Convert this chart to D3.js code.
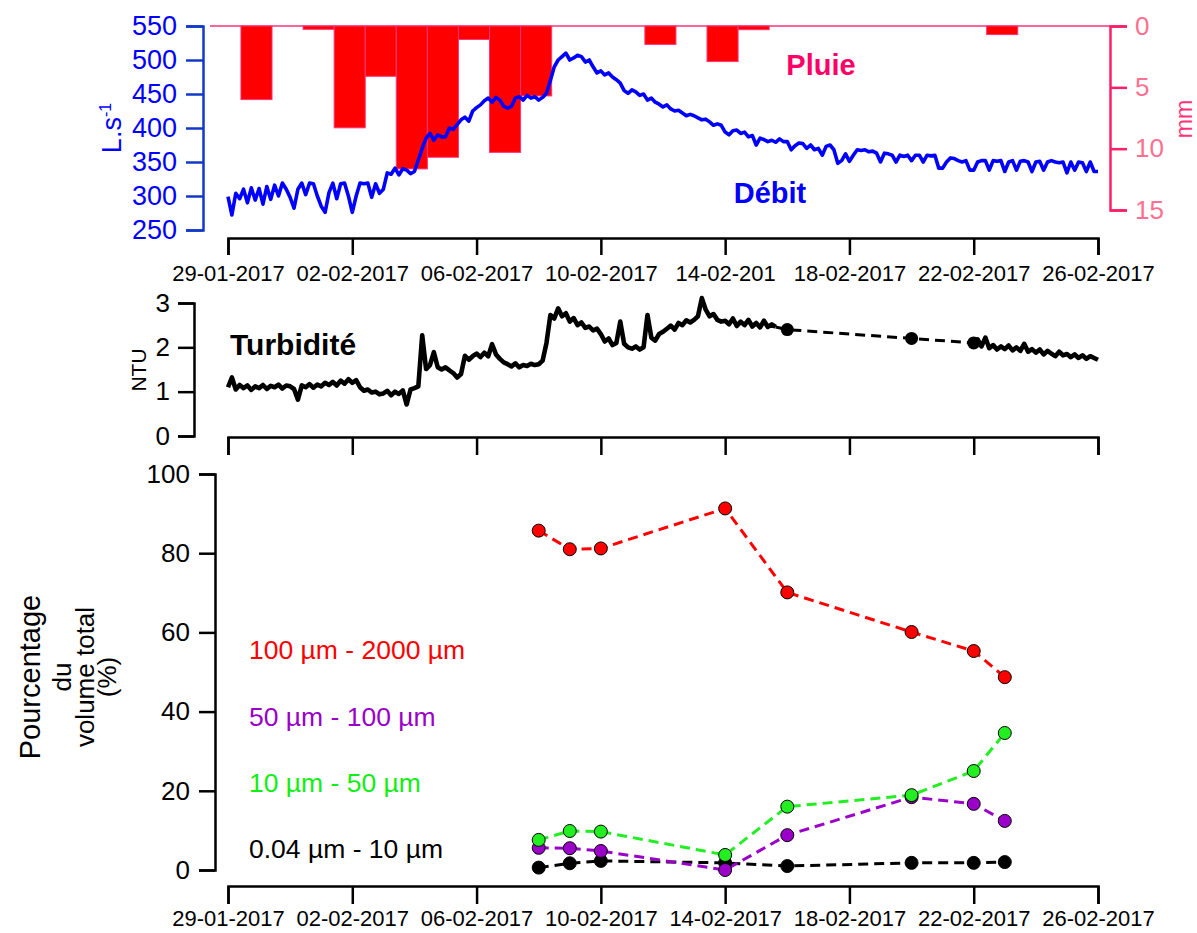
<!DOCTYPE html>
<html><head><meta charset="utf-8">
<script src="https://cdn.jsdelivr.net/npm/d3@7"></script>
<style>body{margin:0;background:#fff}svg{display:block}</style>
</head><body>
<svg id="c" width="1197" height="933"></svg>
<script>
// ---------- data ----------
const axisDates = ["2017-01-29","2017-02-02","2017-02-06","2017-02-10","2017-02-14","2017-02-18","2017-02-22","2017-02-26"];
const tickLabels = ["29-01-2017","02-02-2017","06-02-2017","10-02-2017","14-02-2017","18-02-2017","22-02-2017","26-02-2017"];
const tickLabelsTop = ["29-01-2017","02-02-2017","06-02-2017","10-02-2017","14-02-201","18-02-2017","22-02-2017","26-02-2017"];
const debitTicks = [250,300,350,400,450,500,550];
const rainTicks = [0,5,10,15];
const ntuTicks = [0,1,2,3];
const pctTicks = [0,20,40,60,80,100];

// daily rain (mm), bars starting 29-01 10:00
const rainStart = "2017-01-29T10:00:00Z";
const rainMm = [6.0,0,0.27,8.3,4.1,11.65,10.7,1.1,10.3,5.7,0,0,0,1.5,0,2.9,0.3,0,0,0,0,0,0,0,0.7];

// discharge L/s, every 3 h from 29-01 00:00
const debitStart = "2017-01-29T00:00:00Z";
const debit = [
299,272,304,296,310,290,312,294, 311,288,314,295,316,300,319,310,
298,282,310,319,302,319,318,300, 285,276,305,319,296,318,319,300,
276,300,319,318,319,298,318,304, 310,334,332,341,331,340,338,333,
336,353,370,385,392,382,390,387, 387,400,398,405,412,416,410,425,
430,434,440,444,438,445,441,432, 429,432,444,446,441,448,444,446,
441,445,451,470,490,500,505,510, 500,503,507,505,497,500,490,481,
484,478,481,475,471,466,455,451, 456,453,448,450,441,444,438,435,
431,434,428,425,426,422,418,420, 418,415,412,413,409,404,406,404,
394,390,396,397,392,394,387,389, 375,385,383,380,382,379,384,380,
380,368,374,378,377,370,375,368, 370,360,373,375,368,348,352,362,
351,360,368,367,368,365,366,363, 350,363,362,360,350,360,358,360,
352,360,360,350,360,359,360,341, 341,350,356,355,352,350,352,338,
338,350,352,352,338,352,351,352, 336,350,352,338,351,352,350,336,
350,351,338,350,352,350,349,350, 334,350,338,350,349,336,350,336,
336];

// turbidity NTU, every 3 h
const turb1Start = "2017-01-29T00:00:00Z";
const turb1 = [
1.10,1.32,1.05,1.15,1.08,1.14,1.04,1.12, 1.08,1.15,1.06,1.13,1.10,1.16,1.07,1.14,
1.12,1.06,0.82,1.14,1.10,1.17,1.09,1.16, 1.12,1.20,1.15,1.22,1.14,1.25,1.18,1.28,
1.20,1.26,1.10,1.02,1.05,0.98,1.00,0.94, 0.96,1.02,0.92,1.00,0.95,1.03,0.71,1.05,
1.08,1.12,2.27,1.51,1.60,1.89,1.55,1.50, 1.55,1.48,1.42,1.32,1.40,1.81,1.72,1.80,
1.86,1.78,1.88,1.80,2.07,1.84,1.74,1.66, 1.62,1.57,1.64,1.55,1.60,1.58,1.63,1.60,
1.62,1.70,2.10,2.73,2.65,2.88,2.70,2.77, 2.58,2.66,2.50,2.56,2.44,2.47,2.38,2.42,
2.30,2.13,2.20,2.05,2.10,2.58,2.08,2.00, 1.97,2.02,1.95,2.00,2.73,2.22,2.15,2.30,
2.35,2.42,2.49,2.40,2.55,2.50,2.61,2.56, 2.62,2.70,3.11,2.85,2.70,2.75,2.62,2.58,
2.60,2.52,2.65,2.48,2.58,2.50,2.62,2.47, 2.55,2.45,2.60,2.46,2.52,2.46];
const turbManualDates = ["2017-02-16","2017-02-20","2017-02-22"];
const turbManual = [2.40,2.20,2.10];
const turb2Start = "2017-02-22T00:00:00Z";
const turb2 = [
2.10,2.18,2.02,2.22,1.98,2.05,1.95,2.02, 1.96,2.04,1.93,2.00,1.92,2.08,1.90,1.96,
1.88,1.95,1.84,1.92,1.86,1.80,1.90,1.82, 1.85,1.78,1.84,1.76,1.82,1.74,1.80,1.76,
1.72];

// particle size classes (% of total volume)
const sampleDates = ["2017-02-08","2017-02-09","2017-02-10","2017-02-14","2017-02-16","2017-02-20","2017-02-22","2017-02-23"];
const pct100_2000 = [85.7,81.0,81.2,91.3,70.1,60.1,55.3,48.7];
const pct50_100   = [5.6,5.5,4.8,0.0,8.8,18.4,16.7,12.4];
const pct10_50    = [7.6,9.85,9.7,3.8,16.0,18.9,25.0,34.6];
const pct004_10   = [0.6,1.7,2.3,1.8,1.0,1.8,1.8,2.0];
const classLabels = ["100 µm - 2000 µm","50 µm - 100 µm","10 µm - 50 µm","0.04 µm - 10 µm"];
const classColors = ["#ff0000","#9a00c8","#22ee22","#000000"];
const classTextColors = ["#ff0000","#9a00c8","#11ee11","#000000"];

// ---------- drawing ----------
const F = "'Liberation Sans', Arial, Helvetica, sans-serif";
const svg = d3.select("#c").style("font-family", F);
const P = d => new Date(d.length === 10 ? d + "T00:00:00Z" : d);
const H3 = 3 * 3600 * 1000, DAY = 24 * 3600 * 1000;

const x = d3.scaleUtc([P("2017-01-29"), P("2017-02-26")], [228, 1098]);
const yDebit = d3.scaleLinear([250, 550], [230, 26]);
const yRain = d3.scaleLinear([0, 15], [26, 210]);
const yNtu = d3.scaleLinear([0, 3], [436, 303]);
const yPct = d3.scaleLinear([0, 100], [870, 474]);

function styleAxis(g, color, textColor, size, width) {
  g.selectAll("path.domain").attr("stroke", color).attr("stroke-width", width || 2.5);
  g.selectAll(".tick line").attr("stroke", color).attr("stroke-width", width || 2.5);
  g.selectAll(".tick text").attr("fill", textColor).style("font-size", size + "px").style("font-family", F);
}
function xAxis(yPos, labels, tickLen, pad) {
  const ax = d3.axisBottom(x).tickValues(axisDates.map(P)).tickSizeOuter(0)
    .tickSize(tickLen).tickPadding(pad)
    .tickFormat((d, i) => labels ? labels[i] : "");
  const g = svg.append("g").attr("transform", `translate(0,${yPos})`).call(ax);
  styleAxis(g, "#000", "#000", 22, 2.5);
  return g;
}

// ===== Panel 1 : rain + discharge =====
svg.append("line").attr("x1", 210).attr("x2", 1110).attr("y1", yRain(0)).attr("y2", yRain(0))
  .attr("stroke", "#ff3377").attr("stroke-width", 1.5);
const r0 = P(rainStart).getTime();
svg.append("g").selectAll("rect").data(rainMm.map((v, i) => ({v, i})).filter(d => d.v > 0)).join("rect")
  .attr("x", d => x(new Date(r0 + d.i * DAY)))
  .attr("width", d => x(new Date(r0 + (d.i + 1) * DAY)) - x(new Date(r0 + d.i * DAY)))
  .attr("y", yRain(0))
  .attr("height", d => yRain(d.v) - yRain(0))
  .attr("fill", "#ff0000").attr("stroke", "#ff3377").attr("stroke-width", 1);

const d0 = P(debitStart).getTime();
svg.append("path").datum(debit)
  .attr("fill", "none").attr("stroke", "#0000ff").attr("stroke-width", 3.6).attr("stroke-linejoin", "round")
  .attr("d", d3.line().x((d, i) => x(new Date(d0 + i * H3))).y(d => yDebit(d)));

const gL = svg.append("g").attr("transform", "translate(203,0)")
  .call(d3.axisLeft(yDebit).tickValues(debitTicks).tickSizeOuter(0).tickSize(17).tickPadding(9).tickFormat(d3.format("d")));
styleAxis(gL, "#1238c8", "#0000ff", 27);
svg.append("text").attr("transform", "translate(121,128) rotate(-90)").attr("text-anchor", "middle")
  .attr("fill", "#0000ff").style("font-size", "27px")
  .call(t => { t.append("tspan").text("L.s"); t.append("tspan").attr("dy", -10).style("font-size", "16px").text("-1"); });

const gR = svg.append("g").attr("transform", "translate(1110,0)")
  .call(d3.axisRight(yRain).tickValues(rainTicks).tickSizeOuter(0).tickSize(17).tickPadding(8));
styleAxis(gR, "#ff1f66", "#ff6f91", 26);
svg.append("text").attr("transform", "translate(1192,119) rotate(-90)").attr("text-anchor", "middle")
  .attr("fill", "#ff3377").style("font-size", "23px").text("mm");

svg.append("text").attr("x", 821).attr("y", 75).attr("text-anchor", "middle").attr("fill", "#ff0066")
  .style("font-size", "29px").style("font-weight", "bold").text("Pluie");
svg.append("text").attr("x", 770).attr("y", 203).attr("text-anchor", "middle").attr("fill", "#0000ff")
  .style("font-size", "29px").style("font-weight", "bold").text("Débit");

xAxis(238, tickLabelsTop, 17, 10);

// ===== Panel 2 : turbidity =====
const t1 = P(turb1Start).getTime(), t2 = P(turb2Start).getTime();
const lineNtu = d3.line().x(d => x(d[0])).y(d => yNtu(d[1]));
const turb1Pts = turb1.map((v, i) => [new Date(t1 + i * H3), v]);
const turb2Pts = turb2.map((v, i) => [new Date(t2 + i * H3), v]);
const manPts = turbManual.map((v, i) => [P(turbManualDates[i]), v]);
svg.append("path").datum([turb1Pts[turb1Pts.length - 1], ...manPts])
  .attr("fill", "none").attr("stroke", "#000").attr("stroke-width", 3).attr("stroke-dasharray", "10,6").attr("d", lineNtu);
[turb1Pts, turb2Pts].forEach(pts => svg.append("path").datum(pts)
  .attr("fill", "none").attr("stroke", "#000").attr("stroke-width", 4.6).attr("stroke-linejoin", "round").attr("d", lineNtu));
svg.append("g").selectAll("circle").data(manPts).join("circle")
  .attr("cx", d => x(d[0])).attr("cy", d => yNtu(d[1])).attr("r", 6.5).attr("fill", "#000");

const gN = svg.append("g").attr("transform", "translate(194,0)")
  .call(d3.axisLeft(yNtu).tickValues(ntuTicks).tickSizeOuter(0).tickSize(16).tickPadding(8).tickFormat(d3.format("d")));
styleAxis(gN, "#000", "#000", 26);
svg.append("text").attr("transform", "translate(146,370) rotate(-90)").attr("text-anchor", "middle")
  .attr("fill", "#000").style("font-size", "21px").text("NTU");
svg.append("text").attr("x", 230).attr("y", 355).attr("fill", "#000")
  .style("font-size", "30px").style("font-weight", "bold").text("Turbidité");
xAxis(437, null, 18, 0);

// ===== Panel 3 : particle size =====
const series = [pct100_2000, pct50_100, pct10_50, pct004_10];
const drawOrder = [3, 1, 2, 0];
const sd = sampleDates.map(P);
const linePct = d3.line().x((d, i) => x(sd[i])).y(d => yPct(d));
drawOrder.forEach(k => {
  svg.append("path").datum(series[k]).attr("fill", "none").attr("stroke", classColors[k])
    .attr("stroke-width", 3).attr("stroke-dasharray", "10,6").attr("d", linePct);
});
drawOrder.forEach(k => {
  svg.append("g").selectAll("circle").data(series[k]).join("circle")
    .attr("cx", (d, i) => x(sd[i])).attr("cy", d => yPct(d)).attr("r", 6.5)
    .attr("fill", classColors[k]).attr("stroke", "#000").attr("stroke-width", 1);
});
const legendY = [659, 726, 792, 858];
classLabels.forEach((lab, k) => {
  svg.append("text").attr("x", 249).attr("y", legendY[k]).attr("fill", classTextColors[k])
    .style("font-size", "26.5px").text(lab);
});

const gP = svg.append("g").attr("transform", "translate(215,0)")
  .call(d3.axisLeft(yPct).tickValues(pctTicks).tickSizeOuter(0).tickSize(16).tickPadding(9).tickFormat(d3.format("d")));
styleAxis(gP, "#000", "#000", 26);
const ylab = [["Pourcentage", 40, 29], ["du", 71, 26], ["volume total", 94, 26], ["(%)", 116, 26]];
ylab.forEach(([t, bx, fs]) => svg.append("text").attr("transform", `translate(${bx},677) rotate(-90)`)
  .attr("text-anchor", "middle").attr("fill", "#000").style("font-size", fs + "px").text(t));

xAxis(886, tickLabels, 18, 6);
</script>
</body></html>
